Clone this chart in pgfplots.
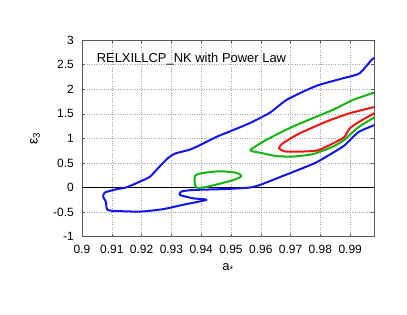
\documentclass[border=0pt]{standalone}
\usepackage{pgfplots}
\pgfplotsset{compat=1.18}
\usepackage{fontspec}
\setmainfont{Liberation Sans}
\definecolor{cblue}{RGB}{20,20,240}
\definecolor{cgreen}{RGB}{20,180,20}
\definecolor{cred}{RGB}{240,20,20}
\begin{document}
\begin{tikzpicture}
\path[use as bounding box] (0,0) rectangle (407bp,315bp);
\begin{axis}[
  at={(82bp,78.3bp)}, anchor=south west,
  scale only axis, width=292bp, height=196.7bp,
  xmin=0.9, xmax=0.998, ymin=-1, ymax=3,
  xtick={0.9,0.91,0.92,0.93,0.94,0.95,0.96,0.97,0.98,0.99},
  xticklabels={0.9,0.91,0.92,0.93,0.94,0.95,0.96,0.97,0.98,0.99},
  ytick={-1,-0.5,0,0.5,1,1.5,2,2.5,3},
  yticklabels={-1,-0.5,0,0.5,1,1.5,2,2.5,3},
  tick pos=both, tick align=inside, major tick length=3bp,
  tick style={gray!70!black, line width=0.5bp},
  axis line style={gray!70!black, line width=0.8bp},
  grid=major, major grid style={dotted, gray!70, line width=0.5bp},
  ticklabel style={font=\fontsize{12}{14}\selectfont},
  xticklabel style={inner sep=0pt, anchor=north, yshift=-8bp},
  yticklabel style={inner sep=0pt, anchor=east, xshift=-8bp},
  /pgf/number format/assume math mode=true,
  xlabel={a\textsubscript{*}},
  ylabel={ε\textsubscript{3}},
  xlabel style={at={(axis description cs:0.5,-0.158)}, anchor=center, font=\fontsize{13}{14}\selectfont},
  ylabel style={at={(axis description cs:-0.161,0.5)}, anchor=center, font=\fontsize{14}{15}\selectfont},
  clip=true,
]
\addplot[black, line width=1.6bp] coordinates {(0.9,0) (0.998,0)};
\addplot[cblue, line width=2bp, line join=round, smooth, tension=0.35] coordinates {
(0.9990,2.66)
(0.9974,2.61)
(0.9931,2.32)
(0.9875,2.22)
(0.9797,2.09)
(0.9753,1.98)
(0.9686,1.78)
(0.9630,1.52)
(0.9563,1.31)
(0.9496,1.14)
(0.9451,1.03)
(0.9395,0.86)
(0.9362,0.77)
(0.9312,0.69)
(0.9289,0.60)
(0.9261,0.43)
(0.9228,0.22)
(0.9194,0.12)
(0.9150,0.005)
(0.9116,-0.035)
(0.9077,-0.10)
(0.9071,-0.185)
(0.9080,-0.29)
(0.9083,-0.42)
(0.9094,-0.47)
(0.9194,-0.49)
(0.9272,-0.44)
(0.9340,-0.35)
(0.9418,-0.25)
(0.9373,-0.22)
(0.9328,-0.15)
(0.9334,-0.08)
(0.9373,-0.05)
(0.9485,-0.03)
(0.9563,0.0)
(0.9596,0.05)
(0.9697,0.29)
(0.9786,0.51)
(0.9875,0.83)
(0.9900,0.97)
(0.9931,1.14)
(0.9990,1.29)
};
\addplot[cgreen, line width=2bp, line join=round, smooth, tension=0.35] coordinates {
(0.9990,1.95)
(0.9909,1.78)
(0.9842,1.58)
(0.9708,1.24)
(0.9619,0.97)
(0.9565,0.76)
(0.9596,0.71)
(0.9652,0.64)
(0.9708,0.63)
(0.9775,0.68)
(0.9842,0.83)
(0.9881,0.97)
(0.9898,1.07)
(0.9931,1.24)
(0.9990,1.46)
};
\addplot[cred, line width=2bp, line join=round, smooth, tension=0.35] coordinates {
(0.9990,1.65)
(0.9898,1.51)
(0.9820,1.34)
(0.9730,1.10)
(0.9674,0.90)
(0.9661,0.80)
(0.9686,0.73)
(0.9786,0.75)
(0.9853,0.93)
(0.9881,1.03)
(0.9898,1.20)
(0.9931,1.34)
(0.9990,1.54)
};
\addplot[cgreen, line width=2bp, line join=round, smooth cycle, tension=0.45] coordinates {
(0.9380,0.24)
(0.9400,0.29)
(0.9462,0.33)
(0.9518,0.30)
(0.9535,0.23)
(0.9507,0.15)
(0.9451,0.06)
(0.9406,0.00)
(0.9384,0.00)
(0.9378,0.10)
};
\node[anchor=west, inner sep=0pt, font=\fontsize{13}{15}\selectfont] at (axis cs:0.9049,2.61) {RELXILLCP\_NK with Power Law};
\end{axis}
\end{tikzpicture}
\end{document}
